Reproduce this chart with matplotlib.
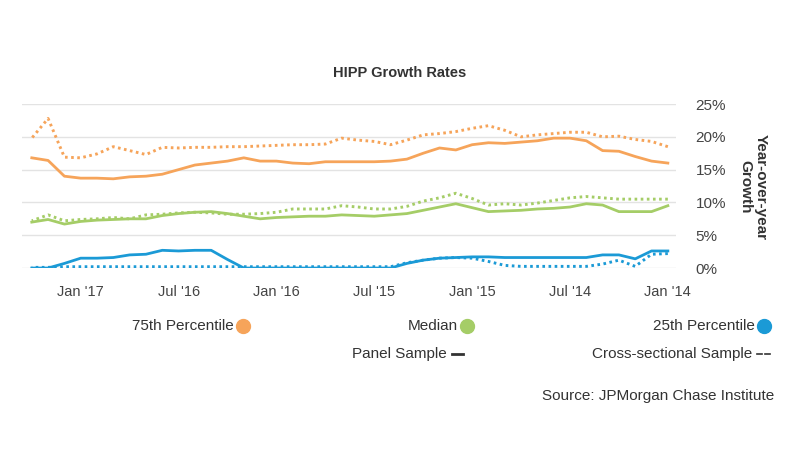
import matplotlib
matplotlib.use("Agg")
import matplotlib.pyplot as plt
from matplotlib.lines import Line2D

plt.rcParams["font.family"] = ["Liberation Sans", "DejaVu Sans"]

# monthly, Jan 2014 .. Apr 2017
months = list(range(40))
tick_pos = [0, 6, 12, 18, 24, 30, 36]
tick_labels = ["Jan '14", "Jul '14", "Jan '15", "Jul '15", "Jan '16", "Jul '16", "Jan '17"]

p25_panel = [2.6, 2.6, 1.4, 2.0, 2.0, 1.6, 1.6, 1.6, 1.6, 1.6,
             1.6, 1.7, 1.7, 1.6, 1.5, 1.2, 0.7, 0.0, 0.0, 0.0,
             0.0, 0.0, 0.0, 0.0, 0.0, 0.0, 0.0, 1.3, 2.7, 2.7,
             2.6, 2.7, 2.1, 2.0, 1.6, 1.5, 1.5, 0.7, 0.0, 0.0]
p25_cross = [2.2, 2.1, 0.25, 1.2, 0.6, 0.25, 0.25, 0.25, 0.25, 0.25,
             0.4, 1.0, 1.5, 1.6, 1.5, 1.2, 0.8, 0.2, 0.2, 0.2,
             0.2, 0.2, 0.2, 0.2, 0.2, 0.2, 0.2, 0.2, 0.2, 0.2,
             0.2, 0.2, 0.2, 0.2, 0.2, 0.2, 0.2, 0.2, 0.1, 0.1]
med_panel = [9.5, 8.6, 8.6, 8.6, 9.6, 9.8, 9.3, 9.1, 9.0, 8.8,
             8.7, 8.6, 9.2, 9.8, 9.3, 8.8, 8.3, 8.1, 7.9, 8.0,
             8.1, 7.9, 7.9, 7.8, 7.7, 7.5, 7.9, 8.3, 8.6, 8.5,
             8.3, 8.0, 7.5, 7.5, 7.4, 7.3, 7.1, 6.7, 7.4, 7.0]
med_cross = [10.5, 10.5, 10.5, 10.5, 10.7, 10.9, 10.7, 10.3, 9.9, 9.6,
             9.8, 9.6, 10.6, 11.4, 10.7, 10.2, 9.4, 9.0, 9.0, 9.3,
             9.5, 9.0, 9.0, 9.0, 8.5, 8.3, 8.2, 8.2, 8.4, 8.5,
             8.4, 8.2, 8.1, 7.5, 7.7, 7.5, 7.4, 7.2, 8.1, 7.2]
p75_panel = [16.0, 16.3, 17.0, 17.8, 17.9, 19.4, 19.8, 19.8, 19.4, 19.2,
             19.0, 19.1, 18.8, 18.0, 18.3, 17.5, 16.6, 16.3, 16.2, 16.2,
             16.2, 16.2, 15.9, 16.0, 16.3, 16.3, 16.8, 16.3, 16.0, 15.7,
             15.0, 14.3, 14.0, 13.9, 13.6, 13.7, 13.7, 14.0, 16.4, 16.8]
p75_cross = [18.5, 19.3, 19.6, 20.1, 20.0, 20.7, 20.7, 20.5, 20.3, 20.0,
             21.0, 21.7, 21.3, 20.8, 20.5, 20.3, 19.5, 18.8, 19.3, 19.5,
             19.8, 18.9, 18.8, 18.8, 18.7, 18.6, 18.5, 18.5, 18.4, 18.4,
             18.3, 18.4, 17.3, 17.9, 18.5, 17.4, 16.8, 16.9, 22.8, 19.8]

BLUE = "#1b9ad6"
GREEN = "#a5cd67"
ORANGE = "#f6a45a"
TXT = "#333333"

fig = plt.figure(figsize=(8, 4.5), dpi=100)
ax = fig.add_axes([0.0275, 0.4044, 0.8175, 0.3644])

dot = (0, (0.9, 1.2))
for solid, cross, col in [(p25_panel, p25_cross, BLUE),
                          (med_panel, med_cross, GREEN),
                          (p75_panel, p75_cross, ORANGE)]:
    ax.plot(months, cross, color=col, lw=2.1, linestyle=dot, zorder=3)
    ax.plot(months, solid, color=col, lw=2.0, zorder=4, solid_joinstyle="round")

# mirrored layout: time runs right to left, value axis on the right
ax.set_xlim(39.6, -0.5)
ax.set_ylim(0, 25)
ax.set_yticks([0, 5, 10, 15, 20, 25])
ax.set_yticklabels([f"{v}%" for v in [0, 5, 10, 15, 20, 25]])
ax.yaxis.tick_right()
ax.set_xticks(tick_pos)
ax.set_xticklabels(tick_labels)
ax.tick_params(axis="y", length=0, colors="#444444", labelsize=11, pad=14)
ax.tick_params(axis="x", length=0, colors="#444444", labelsize=10.5, pad=12)
ax.grid(axis="y", color="#e3e3e3", lw=1)
ax.set_axisbelow(True)
for s in ax.spines.values():
    s.set_visible(False)

fig.text(0.5, 1 - 73 / 450, "HIPP Growth Rates", ha="center", va="center",
         fontsize=10.5, fontweight="bold", color=TXT)
fig.text(0.941, 1 - 187 / 450, "Year-over-year\nGrowth", rotation=270,
         ha="center", va="center", fontsize=11, fontweight="bold",
         color=TXT, multialignment="center", linespacing=1.15)

# legend, mirrored: marker to the right of each label
legend_items = [(764, BLUE, "25th Percentile"),
                (467, GREEN, "Median"),
                (243, ORANGE, "75th Percentile")]
for x, col, label in legend_items:
    fig.add_artist(Line2D([x / 800], [1 - 326 / 450], marker="o", markersize=10,
                          color=col, transform=fig.transFigure))
    fig.text((x - 9) / 800, 1 - 326 / 450, label, ha="right", va="center",
             fontsize=11, color=TXT)

fig.add_artist(Line2D([757 / 800, 762 / 800], [1 - 354 / 450] * 2, color=TXT, lw=1.2,
                      transform=fig.transFigure))
fig.add_artist(Line2D([765 / 800, 770 / 800], [1 - 354 / 450] * 2, color=TXT, lw=1.2,
                      transform=fig.transFigure))
fig.text(752 / 800, 1 - 354 / 450, "Cross-sectional Sample", ha="right", va="center",
         fontsize=11, color=TXT)
fig.add_artist(Line2D([452 / 800, 463 / 800], [1 - 354 / 450] * 2, color=TXT, lw=2,
                      transform=fig.transFigure))
fig.text(447 / 800, 1 - 354 / 450, "Panel Sample", ha="right", va="center",
         fontsize=11, color=TXT)

fig.text(774 / 800, 1 - 396 / 450, "Source: JPMorgan Chase Institute", ha="right",
         va="center", fontsize=11, color=TXT)

fig.savefig("out.png", dpi=100, facecolor="white")
